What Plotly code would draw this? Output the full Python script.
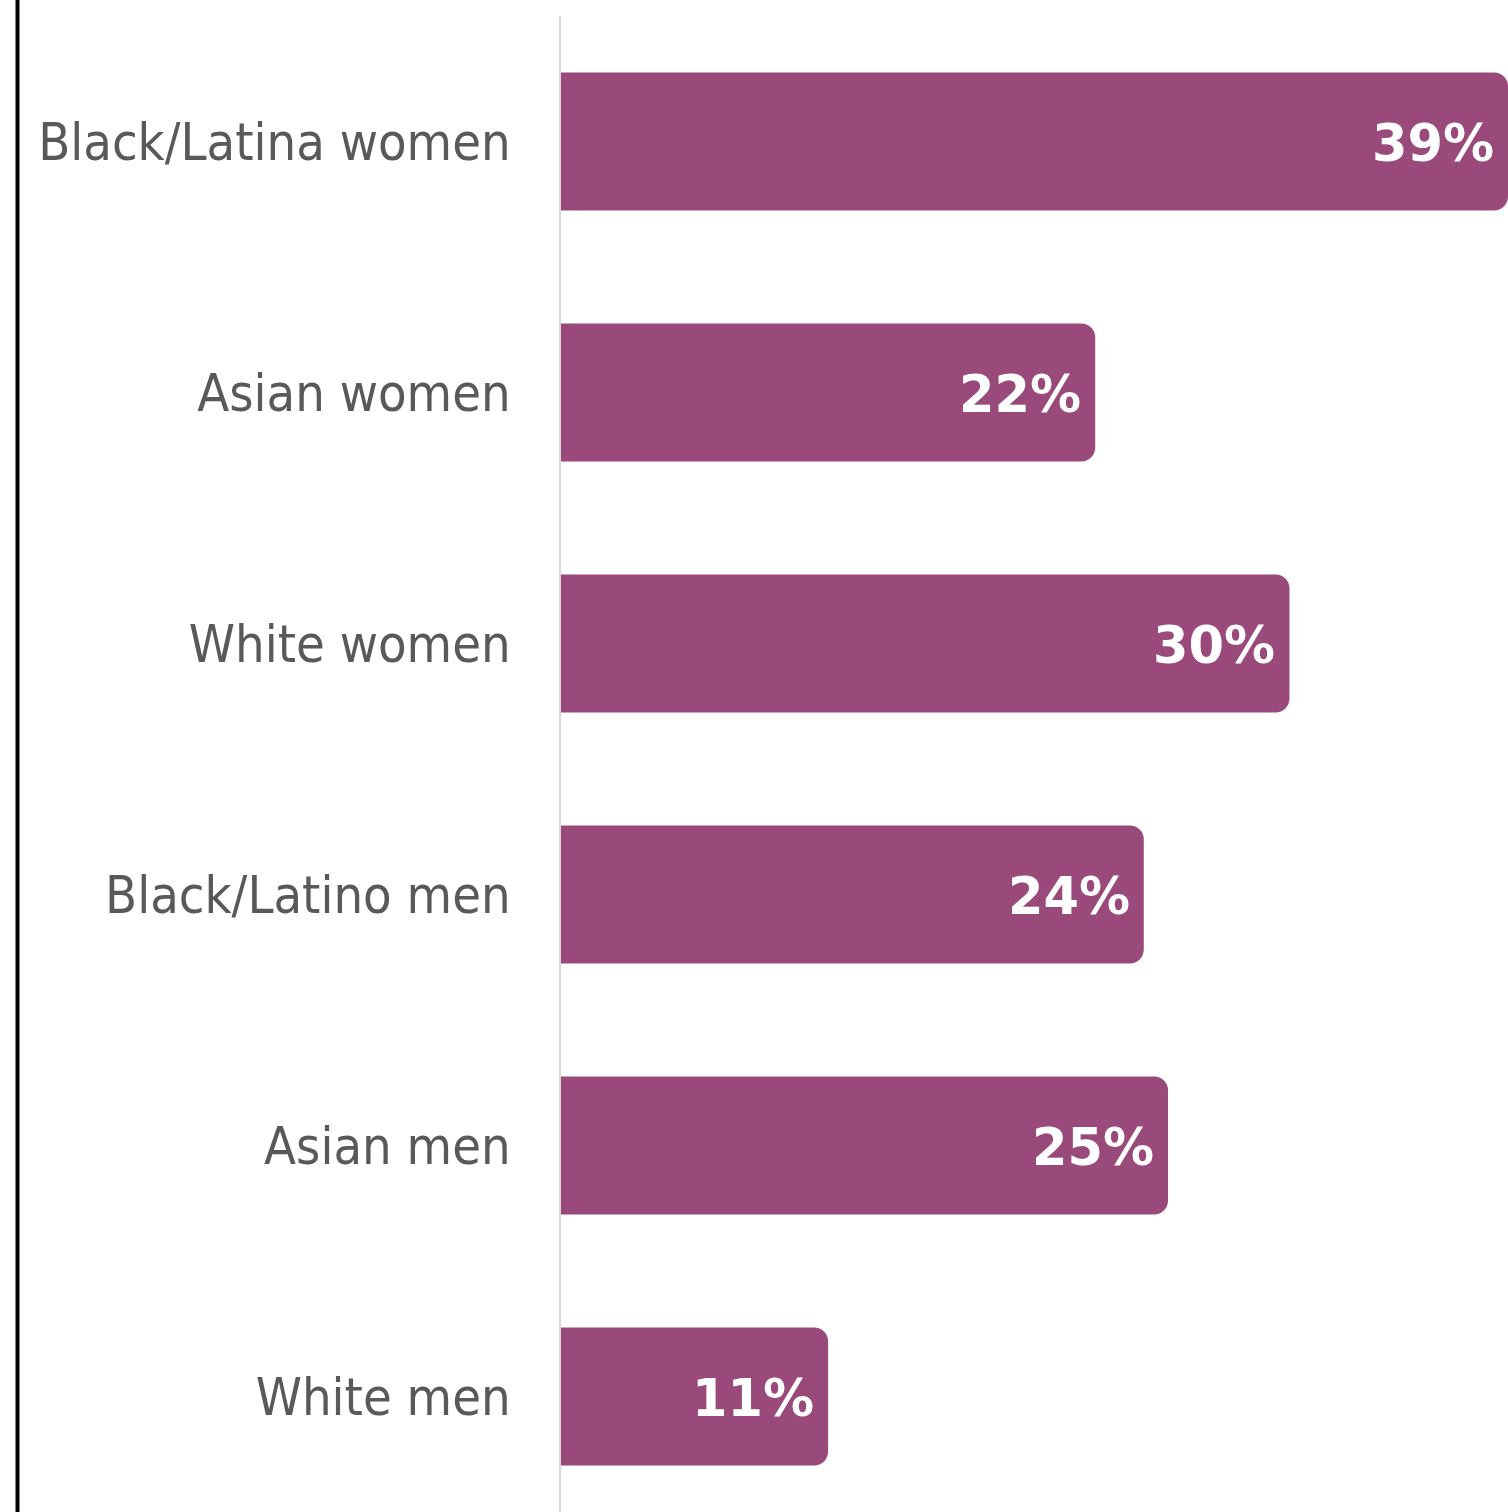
import plotly.graph_objects as go

# Share of each group, in percent
groups = ["Black/Latina women", "Asian women", "White women",
          "Black/Latino men", "Asian men", "White men"]
shares = [39, 22, 30, 24, 25, 11]
share_labels = [f"{v}%" for v in shares]

BAR_COLOR = "#9a4a7a"
LABEL_COLOR = "#595959"

W, H = 1508, 1512
LEFT, TOP = 561, 16

fig = go.Figure(
    go.Bar(
        x=shares,
        y=groups,
        orientation="h",
        width=0.55,
        marker=dict(color=BAR_COLOR, cornerradius=14, line=dict(width=0)),
        hoverinfo="skip",
    )
)

# Value labels sit inside the end of each bar
for g, v, lab in zip(groups, shares, share_labels):
    fig.add_annotation(
        x=v, y=g, text=lab, showarrow=False,
        xanchor="right", yanchor="middle", xshift=-12, yshift=-2,
        font=dict(family="DejaVu Sans", size=51, color="white", weight="bold"),
    )

# Black rule down the left edge of the chart
fig.add_shape(
    type="line", xref="paper", yref="paper",
    x0=(17.5 - LEFT) / (W - LEFT), x1=(17.5 - LEFT) / (W - LEFT),
    y0=-0.01, y1=1 + TOP / (H - TOP) + 0.01,
    line=dict(color="black", width=4),
)

fig.update_layout(
    width=W, height=H,
    margin=dict(l=LEFT, r=0, t=TOP, b=0, pad=0),
    paper_bgcolor="white", plot_bgcolor="white",
    showlegend=False,
    bargap=0.45,
)
fig.update_xaxes(
    range=[0, 39], showgrid=False, zeroline=False, showticklabels=False,
    showline=False, fixedrange=True,
)
fig.update_yaxes(
    type="category",
    range=[5.46, -0.5],
    showgrid=False, zeroline=False,
    showline=True, linecolor="#d9d9d9", linewidth=2,
    ticks="outside", ticklen=0, tickcolor="rgba(0,0,0,0)",
    ticklabelstandoff=38,
    tickfont=dict(family="DejaVu Sans Condensed, DejaVu Sans", size=52, color=LABEL_COLOR),
)

fig.write_html("out.html")
